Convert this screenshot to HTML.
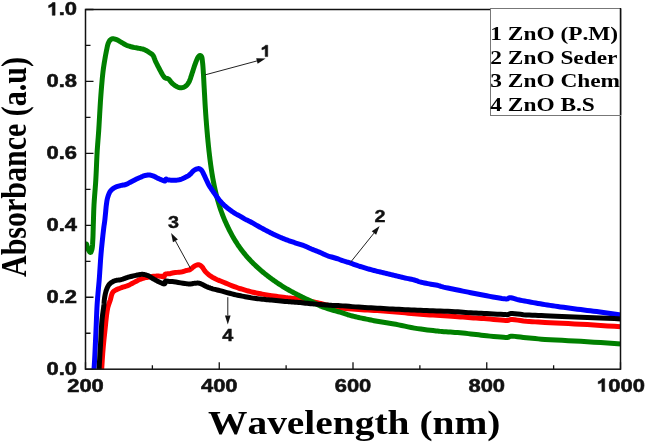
<!DOCTYPE html>
<html><head><meta charset="utf-8"><style>
html,body{margin:0;padding:0;background:#fff;}
svg{display:block;will-change:transform;}
text{font-kerning:none;}
.t{font-family:"Liberation Sans",sans-serif;font-weight:bold;font-size:18.6px;fill:#111;stroke:#111;stroke-width:0.55px;}
.an{font-family:"Liberation Sans",sans-serif;font-weight:bold;font-size:16.5px;fill:#111;stroke:#111;stroke-width:0.4px;}
.ttl{font-family:"Liberation Serif",serif;font-weight:bold;font-size:33px;fill:#000;}
.ttl2{font-family:"Liberation Serif",serif;font-weight:bold;font-size:30px;fill:#000;}
.lg{font-family:"Liberation Serif",serif;font-weight:bold;font-size:19px;fill:#000;}
</style></head><body>
<svg width="645" height="442" viewBox="0 0 645 442">
<defs><clipPath id="c"><rect x="85.5" y="9.5" width="535.0" height="359.7"/></clipPath></defs>
<path d="M85.5 369.20h8 M85.5 333.23h5 M85.5 297.26h8 M85.5 261.29h5 M85.5 225.32h8 M85.5 189.35h5 M85.5 153.38h8 M85.5 117.41h5 M85.5 81.44h8 M85.5 45.47h5 M85.5 9.50h8 M85.50 369.2v-7 M152.38 369.2v-4 M219.25 369.2v-7 M286.12 369.2v-4 M353.00 369.2v-7 M419.88 369.2v-4 M486.75 369.2v-7 M553.62 369.2v-4 M620.50 369.2v-7" stroke="#111" stroke-width="1.3" fill="none"/>
<g clip-path="url(#c)" fill="none" stroke-linejoin="round" stroke-linecap="round">
<polyline points="101.50,372.00 101.74,368.32 101.98,364.63 102.21,360.93 102.45,357.25 102.71,353.60 103.00,350.00 103.29,346.62 103.60,343.30 103.93,340.00 104.27,336.70 104.63,333.38 105.00,330.00 105.39,326.26 105.78,322.33 106.19,318.37 106.64,314.54 107.13,311.03 107.70,308.00 108.10,306.41 108.54,304.98 109.00,303.66 109.46,302.42 109.90,301.22 110.30,300.00 110.59,298.93 110.86,297.86 111.11,296.82 111.35,295.82 111.61,294.91 111.90,294.10 112.10,293.64 112.29,293.21 112.49,292.82 112.70,292.46 112.94,292.12 113.20,291.80 113.48,291.51 113.76,291.25 114.07,291.01 114.40,290.78 114.78,290.55 115.20,290.30 116.05,289.86 117.07,289.40 118.20,288.93 119.38,288.47 120.57,288.03 121.70,287.60 122.78,287.22 123.87,286.87 124.96,286.53 126.04,286.19 127.13,285.82 128.20,285.40 129.29,284.91 130.38,284.37 131.46,283.81 132.54,283.23 133.62,282.66 134.70,282.10 135.78,281.54 136.85,280.97 137.93,280.40 139.01,279.85 140.10,279.35 141.20,278.90 142.28,278.53 143.38,278.21 144.48,277.92 145.59,277.66 146.70,277.43 147.80,277.20 148.88,276.98 149.96,276.78 151.05,276.60 152.13,276.43 153.21,276.30 154.30,276.20 155.41,276.13 156.55,276.10 157.69,276.09 158.80,276.10 159.85,276.14 160.80,276.20 161.42,276.30 162.03,276.46 162.60,276.63 163.13,276.76 163.60,276.80 164.00,276.70 164.26,276.44 164.41,276.04 164.52,275.57 164.64,275.08 164.81,274.64 165.10,274.30 165.71,274.03 166.51,273.89 167.42,273.83 168.35,273.82 169.24,273.79 170.00,273.70 170.43,273.60 170.80,273.48 171.15,273.36 171.51,273.24 171.91,273.12 172.40,273.00 173.71,272.78 175.35,272.58 177.19,272.38 179.06,272.17 180.82,271.95 182.30,271.70 183.11,271.51 183.85,271.31 184.54,271.10 185.20,270.89 185.84,270.69 186.50,270.50 187.10,270.36 187.69,270.25 188.26,270.14 188.84,270.02 189.42,269.84 190.00,269.60 190.76,269.14 191.53,268.55 192.31,267.87 193.07,267.20 193.81,266.58 194.50,266.10 194.95,265.84 195.38,265.62 195.79,265.42 196.20,265.26 196.60,265.12 197.00,265.00 197.34,264.91 197.67,264.83 198.00,264.77 198.33,264.74 198.66,264.74 199.00,264.80 199.45,264.95 199.92,265.17 200.39,265.46 200.87,265.80 201.34,266.18 201.80,266.60 202.40,267.27 202.98,268.08 203.56,268.98 204.14,269.90 204.75,270.79 205.40,271.60 206.09,272.33 206.80,273.03 207.54,273.71 208.31,274.36 209.09,274.99 209.90,275.60 210.75,276.19 211.62,276.76 212.51,277.29 213.42,277.81 214.35,278.31 215.30,278.80 216.30,279.28 217.30,279.72 218.32,280.14 219.38,280.57 220.50,281.01 221.70,281.50 223.57,282.28 225.65,283.14 227.85,284.05 230.07,284.96 232.25,285.82 234.30,286.60 235.92,287.19 237.49,287.74 239.03,288.26 240.54,288.75 242.06,289.23 243.60,289.70 245.14,290.16 246.69,290.60 248.24,291.02 249.79,291.43 251.35,291.82 252.90,292.20 254.45,292.55 255.99,292.89 257.54,293.20 259.10,293.51 260.65,293.81 262.20,294.10 263.73,294.38 265.23,294.66 266.74,294.92 268.27,295.18 269.85,295.44 271.50,295.70 273.68,296.02 276.05,296.35 278.49,296.67 280.87,296.98 283.09,297.26 285.00,297.50 285.99,297.62 286.85,297.72 287.64,297.82 288.43,297.90 289.26,298.00 290.20,298.10 291.70,298.25 293.35,298.41 295.09,298.57 296.88,298.75 298.66,298.96 300.40,299.20 302.11,299.49 303.81,299.82 305.51,300.18 307.21,300.56 308.90,300.93 310.60,301.30 312.29,301.66 313.97,302.01 315.65,302.37 317.34,302.73 319.02,303.11 320.70,303.50 322.41,303.92 324.12,304.36 325.83,304.82 327.54,305.27 329.23,305.70 330.90,306.10 332.40,306.44 333.84,306.77 335.27,307.07 336.74,307.36 338.30,307.64 340.00,307.90 342.71,308.24 345.70,308.53 348.88,308.80 352.15,309.05 355.42,309.28 358.60,309.50 361.70,309.71 364.80,309.90 367.90,310.07 371.00,310.24 374.10,310.41 377.20,310.60 380.30,310.80 383.40,311.00 386.50,311.20 389.60,311.42 392.70,311.65 395.80,311.90 398.90,312.19 402.00,312.51 405.10,312.85 408.20,313.19 411.30,313.51 414.40,313.80 417.48,314.05 420.54,314.28 423.60,314.49 426.68,314.69 429.81,314.89 433.00,315.10 436.60,315.33 440.33,315.57 444.11,315.80 447.87,316.03 451.52,316.27 455.00,316.50 457.78,316.70 460.46,316.90 463.06,317.11 465.63,317.31 468.19,317.51 470.80,317.70 473.43,317.89 476.04,318.06 478.66,318.23 481.29,318.41 483.97,318.60 486.70,318.80 489.98,319.07 493.59,319.39 497.24,319.72 500.67,320.03 503.58,320.27 505.70,320.40 506.21,320.42 506.63,320.45 506.99,320.46 507.31,320.46 507.64,320.45 508.00,320.40 508.39,320.30 508.75,320.16 509.11,320.00 509.50,319.84 509.95,319.69 510.50,319.60 512.32,319.58 514.70,319.77 517.46,320.11 520.42,320.51 523.43,320.90 526.30,321.20 529.25,321.44 532.19,321.67 535.17,321.88 538.26,322.09 541.52,322.29 545.00,322.50 550.26,322.78 555.97,323.05 562.00,323.31 568.22,323.58 574.49,323.88 580.70,324.20 587.28,324.59 593.95,325.01 600.70,325.45 607.48,325.90 614.26,326.36 621.00,326.80" stroke="#ff0000" stroke-width="5.0"/>
<polyline points="86.50,244.00 86.82,245.03 87.13,246.11 87.44,247.18 87.76,248.22 88.11,249.17 88.50,250.00 88.81,250.56 89.15,251.14 89.51,251.68 89.86,252.13 90.20,252.42 90.50,252.50 90.80,252.31 91.08,251.88 91.34,251.27 91.58,250.54 91.80,249.77 92.00,249.00 92.24,247.78 92.42,246.41 92.54,244.92 92.63,243.33 92.71,241.68 92.80,240.00 92.92,237.75 93.01,235.36 93.08,232.87 93.15,230.30 93.22,227.67 93.30,225.00 93.40,221.86 93.49,218.63 93.59,215.32 93.70,211.94 93.83,208.49 94.00,205.00 94.24,201.01 94.54,196.94 94.86,192.79 95.20,188.57 95.52,184.31 95.80,180.00 96.06,175.23 96.29,170.30 96.51,165.31 96.72,160.36 96.95,155.56 97.20,151.00 97.44,147.41 97.69,143.96 97.95,140.62 98.21,137.33 98.46,134.04 98.70,130.70 98.92,127.28 99.12,123.83 99.32,120.38 99.52,116.96 99.71,113.62 99.90,110.40 100.06,107.75 100.21,105.23 100.36,102.76 100.52,100.29 100.70,97.72 100.90,95.00 101.19,91.31 101.51,87.32 101.86,83.20 102.22,79.11 102.61,75.22 103.00,71.70 103.30,69.35 103.61,67.13 103.92,65.02 104.25,63.00 104.57,61.03 104.90,59.10 105.18,57.49 105.46,55.93 105.74,54.41 106.02,52.93 106.31,51.49 106.60,50.10 106.83,48.94 107.06,47.80 107.28,46.70 107.52,45.63 107.79,44.63 108.10,43.70 108.37,43.02 108.65,42.36 108.95,41.75 109.28,41.17 109.62,40.66 110.00,40.20 110.33,39.87 110.68,39.58 111.05,39.32 111.43,39.10 111.81,38.92 112.20,38.80 112.57,38.74 112.94,38.73 113.32,38.77 113.71,38.83 114.10,38.91 114.50,39.00 114.99,39.12 115.49,39.26 116.00,39.44 116.53,39.63 117.06,39.85 117.60,40.10 118.28,40.45 118.97,40.87 119.68,41.31 120.40,41.78 121.14,42.25 121.90,42.70 122.78,43.20 123.70,43.71 124.64,44.23 125.59,44.73 126.55,45.19 127.50,45.60 128.40,45.94 129.31,46.23 130.21,46.50 131.13,46.74 132.06,46.97 133.00,47.20 134.03,47.43 135.10,47.64 136.17,47.83 137.25,48.01 138.30,48.20 139.30,48.40 140.14,48.56 140.96,48.71 141.76,48.86 142.55,49.03 143.33,49.23 144.10,49.50 144.91,49.85 145.71,50.27 146.50,50.73 147.28,51.22 148.05,51.71 148.80,52.20 149.51,52.64 150.23,53.07 150.93,53.50 151.61,53.97 152.24,54.49 152.80,55.10 153.33,55.89 153.76,56.77 154.13,57.73 154.49,58.73 154.86,59.76 155.30,60.80 155.92,62.10 156.59,63.48 157.29,64.89 158.01,66.31 158.72,67.69 159.40,69.00 159.98,70.10 160.56,71.21 161.13,72.28 161.70,73.30 162.25,74.25 162.80,75.10 163.16,75.65 163.50,76.16 163.84,76.63 164.19,77.07 164.57,77.46 165.00,77.80 165.50,78.06 166.07,78.21 166.66,78.33 167.26,78.45 167.85,78.62 168.40,78.90 169.00,79.41 169.56,80.04 170.09,80.76 170.63,81.51 171.19,82.24 171.80,82.90 172.49,83.53 173.21,84.16 173.96,84.76 174.73,85.33 175.51,85.85 176.30,86.30 177.03,86.67 177.77,87.02 178.52,87.33 179.28,87.58 180.04,87.74 180.80,87.80 181.58,87.75 182.38,87.61 183.18,87.38 183.96,87.08 184.71,86.72 185.40,86.30 186.06,85.80 186.67,85.23 187.24,84.60 187.78,83.89 188.30,83.13 188.80,82.30 189.44,81.05 190.01,79.63 190.55,78.10 191.06,76.50 191.57,74.88 192.10,73.30 192.67,71.61 193.24,69.85 193.80,68.07 194.37,66.32 194.93,64.65 195.50,63.10 195.94,61.93 196.38,60.77 196.82,59.66 197.27,58.64 197.73,57.74 198.20,57.00 198.49,56.63 198.79,56.28 199.10,55.98 199.40,55.73 199.70,55.57 200.00,55.50 200.26,55.52 200.53,55.62 200.80,55.77 201.05,55.97 201.29,56.22 201.50,56.50 201.79,57.12 202.00,57.91 202.15,58.83 202.27,59.84 202.38,60.91 202.50,62.00 202.69,63.65 202.86,65.46 203.01,67.39 203.14,69.38 203.27,71.37 203.40,73.30 203.52,75.19 203.62,77.08 203.72,78.98 203.81,80.87 203.90,82.74 204.00,84.60 204.10,86.36 204.20,88.11 204.30,89.84 204.39,91.56 204.49,93.28 204.59,95.00 204.68,96.68 204.77,98.35 204.86,100.01 204.95,101.67 205.04,103.34 205.14,105.00 205.24,106.67 205.35,108.33 205.46,110.00 205.57,111.67 205.68,113.33 205.80,115.00 205.92,116.67 206.04,118.33 206.17,120.00 206.30,121.67 206.43,123.33 206.56,125.00 206.70,126.67 206.83,128.33 206.97,130.00 207.12,131.67 207.26,133.33 207.41,135.00 207.56,136.67 207.71,138.33 207.87,140.00 208.03,141.67 208.19,143.33 208.36,145.00 208.53,146.67 208.71,148.33 208.88,150.00 209.07,151.67 209.26,153.33 209.45,155.00 209.65,156.67 209.85,158.33 210.06,160.00 210.28,161.67 210.50,163.33 210.73,165.00 210.96,166.67 211.20,168.34 211.45,170.00 211.70,171.67 211.97,173.34 212.24,175.00 212.52,176.67 212.82,178.34 213.12,180.00 213.43,181.67 213.75,183.34 214.09,185.00 214.44,186.67 214.79,188.34 215.16,190.01 215.54,191.67 215.94,193.34 216.35,195.00 216.78,196.67 217.22,198.34 217.67,200.01 218.14,201.68 218.63,203.34 219.14,205.00 219.67,206.69 220.23,208.38 220.81,210.08 221.39,211.76 221.99,213.40 222.59,215.00 223.14,216.40 223.69,217.76 224.25,219.10 224.82,220.42 225.40,221.74 226.00,223.08 226.63,224.48 227.29,225.89 227.95,227.31 228.63,228.71 229.31,230.10 230.00,231.45 230.65,232.70 231.31,233.94 231.97,235.15 232.64,236.35 233.32,237.53 234.00,238.70 234.65,239.79 235.31,240.87 235.98,241.93 236.65,242.97 237.32,244.00 238.00,245.02 238.66,245.98 239.32,246.93 239.98,247.86 240.65,248.78 241.32,249.69 242.00,250.59 242.66,251.44 243.32,252.29 243.98,253.12 244.65,253.94 245.32,254.75 246.00,255.55 246.65,256.31 247.30,257.06 247.96,257.80 248.62,258.53 249.30,259.27 250.00,260.02 250.79,260.85 251.61,261.70 252.45,262.56 253.30,263.41 254.15,264.25 255.00,265.07 255.83,265.86 256.65,266.63 257.49,267.40 258.32,268.15 259.16,268.90 260.00,269.64 260.83,270.36 261.66,271.07 262.49,271.77 263.32,272.47 264.16,273.16 265.00,273.84 265.83,274.50 266.66,275.16 267.49,275.81 268.33,276.45 269.16,277.09 270.00,277.72 270.83,278.34 271.66,278.94 272.49,279.55 273.33,280.14 274.16,280.73 275.00,281.32 275.83,281.89 276.66,282.46 277.49,283.03 278.33,283.58 279.16,284.13 280.00,284.68 280.83,285.21 281.66,285.74 282.49,286.26 283.33,286.78 284.16,287.29 285.00,287.80 285.83,288.30 286.66,288.79 287.49,289.27 288.33,289.75 289.16,290.23 290.00,290.70 290.83,291.16 291.66,291.62 292.50,292.07 293.33,292.52 294.16,292.96 295.00,293.40 295.83,293.83 296.66,294.26 297.50,294.68 298.33,295.10 299.17,295.51 300.00,295.93 300.83,296.34 301.65,296.75 302.48,297.16 303.31,297.56 304.15,297.97 305.00,298.38 305.90,298.80 306.78,299.21 307.68,299.63 308.60,300.05 309.57,300.51 310.60,301.00 312.11,301.76 313.74,302.62 315.45,303.53 317.20,304.45 318.96,305.32 320.70,306.10 322.39,306.78 324.09,307.40 325.81,307.99 327.52,308.54 329.23,309.08 330.90,309.60 332.44,310.07 333.96,310.50 335.47,310.92 336.98,311.33 338.49,311.75 340.00,312.20 341.55,312.69 343.09,313.20 344.64,313.72 346.19,314.24 347.74,314.74 349.30,315.20 350.84,315.63 352.39,316.03 353.94,316.42 355.49,316.79 357.05,317.15 358.60,317.50 360.15,317.84 361.70,318.16 363.25,318.47 364.80,318.78 366.35,319.09 367.90,319.40 369.45,319.72 371.00,320.05 372.55,320.37 374.10,320.70 375.65,321.01 377.20,321.30 378.75,321.57 380.30,321.83 381.85,322.07 383.40,322.31 384.95,322.55 386.50,322.80 388.01,323.04 389.48,323.26 390.95,323.49 392.47,323.73 394.07,323.99 395.80,324.30 398.53,324.83 401.53,325.47 404.70,326.16 407.96,326.86 411.22,327.52 414.40,328.10 417.57,328.61 420.84,329.08 424.12,329.52 427.30,329.92 430.29,330.28 433.00,330.60 434.65,330.79 436.14,330.96 437.54,331.10 438.92,331.24 440.35,331.37 441.90,331.50 443.92,331.66 446.03,331.80 448.22,331.94 450.45,332.07 452.72,332.23 455.00,332.40 457.55,332.61 460.16,332.85 462.81,333.09 465.48,333.35 468.15,333.62 470.80,333.90 473.43,334.20 476.04,334.52 478.66,334.85 481.29,335.18 483.97,335.50 486.70,335.80 489.98,336.12 493.59,336.46 497.24,336.78 500.66,337.06 503.58,337.28 505.70,337.40 506.21,337.43 506.63,337.46 506.99,337.48 507.32,337.48 507.64,337.46 508.00,337.40 508.39,337.27 508.75,337.08 509.10,336.86 509.49,336.63 509.95,336.44 510.50,336.30 512.32,336.21 514.69,336.37 517.45,336.68 520.42,337.08 523.43,337.48 526.30,337.80 529.26,338.07 532.19,338.34 535.17,338.61 538.26,338.88 541.52,339.14 545.00,339.40 550.26,339.73 555.97,340.04 562.00,340.33 568.22,340.63 574.49,340.95 580.70,341.30 587.28,341.71 593.95,342.15 600.70,342.61 607.48,343.07 614.26,343.54 621.00,344.00" stroke="#008000" stroke-width="5.0"/>
<polyline points="93.80,372.00 93.93,370.06 94.06,368.20 94.20,366.34 94.33,364.40 94.46,362.31 94.60,360.00 94.83,355.75 95.06,350.90 95.30,345.67 95.54,340.30 95.78,335.00 96.00,330.00 96.19,325.63 96.36,321.26 96.53,316.96 96.70,312.78 96.89,308.77 97.10,305.00 97.28,302.24 97.48,299.60 97.69,297.07 97.90,294.63 98.10,292.28 98.30,290.00 98.45,288.27 98.60,286.69 98.74,285.16 98.89,283.60 99.04,281.91 99.20,280.00 99.47,276.34 99.75,272.12 100.05,267.56 100.36,262.90 100.67,258.37 101.00,254.20 101.29,250.95 101.59,247.77 101.90,244.68 102.21,241.70 102.51,238.87 102.80,236.20 103.01,234.28 103.22,232.41 103.43,230.63 103.63,228.94 103.82,227.39 104.00,226.00 104.11,225.24 104.21,224.58 104.31,223.98 104.40,223.37 104.50,222.73 104.60,222.00 104.75,220.78 104.90,219.44 105.05,218.01 105.20,216.54 105.35,215.05 105.50,213.60 105.65,212.11 105.78,210.58 105.92,209.05 106.06,207.53 106.22,206.04 106.40,204.60 106.57,203.34 106.74,202.11 106.92,200.91 107.13,199.72 107.39,198.55 107.70,197.40 108.05,196.27 108.44,195.13 108.86,194.00 109.34,192.92 109.89,191.91 110.50,191.00 111.13,190.26 111.83,189.58 112.58,188.96 113.36,188.39 114.17,187.87 115.00,187.40 115.85,186.99 116.73,186.64 117.64,186.35 118.56,186.08 119.48,185.84 120.40,185.60 121.30,185.39 122.21,185.24 123.12,185.09 124.03,184.94 124.92,184.76 125.80,184.50 126.66,184.17 127.49,183.78 128.31,183.35 129.13,182.90 129.95,182.44 130.80,182.00 131.74,181.52 132.72,181.02 133.71,180.51 134.69,180.01 135.62,179.53 136.50,179.10 137.12,178.80 137.71,178.52 138.27,178.26 138.83,178.01 139.40,177.76 140.00,177.50 140.71,177.19 141.45,176.86 142.20,176.53 142.96,176.22 143.73,175.94 144.50,175.70 145.26,175.50 146.02,175.32 146.79,175.17 147.57,175.06 148.34,175.00 149.10,175.00 149.86,175.07 150.61,175.19 151.37,175.37 152.12,175.59 152.86,175.83 153.60,176.10 154.36,176.42 155.10,176.79 155.83,177.19 156.57,177.61 157.32,178.02 158.10,178.40 159.00,178.80 159.98,179.22 160.97,179.63 161.92,180.02 162.78,180.35 163.50,180.60 163.81,180.72 164.09,180.84 164.34,180.95 164.58,181.02 164.80,181.05 165.00,181.00 165.21,180.79 165.38,180.41 165.52,179.97 165.66,179.53 165.81,179.18 166.00,179.00 166.17,179.00 166.34,179.10 166.52,179.24 166.72,179.41 166.94,179.58 167.20,179.70 167.78,179.85 168.48,179.96 169.26,180.04 170.09,180.11 170.91,180.16 171.70,180.20 172.45,180.24 173.20,180.27 173.95,180.29 174.70,180.28 175.45,180.26 176.20,180.20 176.97,180.11 177.74,180.01 178.51,179.87 179.28,179.71 180.05,179.52 180.80,179.30 181.57,179.03 182.33,178.73 183.08,178.39 183.83,178.04 184.57,177.67 185.30,177.30 186.02,176.94 186.73,176.58 187.43,176.21 188.13,175.82 188.82,175.39 189.50,174.90 190.26,174.23 191.00,173.44 191.72,172.60 192.46,171.78 193.21,171.02 194.00,170.40 194.75,169.94 195.54,169.50 196.34,169.12 197.14,168.83 197.90,168.64 198.60,168.60 199.10,168.67 199.58,168.82 200.04,169.03 200.47,169.30 200.89,169.63 201.30,170.00 201.82,170.60 202.29,171.34 202.74,172.17 203.16,173.05 203.58,173.94 204.00,174.80 204.43,175.68 204.85,176.58 205.27,177.49 205.67,178.40 206.08,179.31 206.50,180.20 206.90,181.06 207.30,181.92 207.70,182.77 208.11,183.61 208.54,184.46 209.00,185.30 209.53,186.19 210.09,187.07 210.68,187.95 211.28,188.83 211.89,189.71 212.50,190.60 213.13,191.53 213.78,192.48 214.43,193.43 215.09,194.38 215.75,195.30 216.40,196.20 216.99,197.00 217.57,197.77 218.15,198.53 218.74,199.28 219.35,200.04 220.00,200.80 220.77,201.67 221.58,202.56 222.41,203.45 223.27,204.33 224.14,205.18 225.00,205.99 225.82,206.70 226.64,207.38 227.47,208.04 228.31,208.67 229.16,209.30 230.00,209.92 230.83,210.53 231.65,211.14 232.48,211.73 233.32,212.31 234.15,212.87 235.00,213.41 235.82,213.89 236.66,214.35 237.49,214.78 238.33,215.21 239.17,215.64 240.00,216.10 240.84,216.59 241.67,217.11 242.50,217.63 243.33,218.15 244.16,218.65 245.00,219.13 245.83,219.56 246.66,219.96 247.50,220.35 248.34,220.74 249.17,221.14 250.00,221.56 250.84,222.01 251.67,222.48 252.50,222.96 253.34,223.45 254.17,223.93 255.00,224.41 255.83,224.88 256.67,225.35 257.50,225.81 258.33,226.28 259.17,226.74 260.00,227.20 260.83,227.66 261.66,228.11 262.50,228.56 263.33,229.01 264.17,229.46 265.00,229.90 265.83,230.34 266.66,230.78 267.50,231.21 268.33,231.64 269.16,232.07 270.00,232.49 270.83,232.91 271.66,233.32 272.50,233.73 273.33,234.13 274.16,234.53 275.00,234.93 275.83,235.32 276.66,235.70 277.50,236.08 278.33,236.45 279.16,236.82 280.00,237.18 280.83,237.53 281.66,237.88 282.50,238.23 283.33,238.57 284.16,238.90 285.00,239.23 285.83,239.55 286.66,239.87 287.50,240.18 288.33,240.48 289.16,240.78 290.00,241.08 290.83,241.37 291.66,241.66 292.50,241.94 293.33,242.21 294.17,242.49 295.00,242.76 295.83,243.02 296.67,243.28 297.50,243.53 298.34,243.79 299.17,244.05 300.00,244.32 300.83,244.60 301.65,244.87 302.47,245.15 303.29,245.45 304.13,245.76 305.00,246.10 306.03,246.53 307.06,246.99 308.13,247.48 309.21,247.99 310.34,248.49 311.50,249.00 312.97,249.60 314.55,250.22 316.17,250.85 317.79,251.48 319.35,252.10 320.80,252.70 321.88,253.18 322.88,253.66 323.84,254.13 324.80,254.60 325.81,255.05 326.90,255.50 328.39,256.03 329.98,256.53 331.65,257.02 333.33,257.51 335.00,258.00 336.60,258.50 338.07,258.99 339.55,259.51 341.01,260.02 342.43,260.52 343.77,260.99 345.00,261.40 345.78,261.64 346.48,261.85 347.14,262.04 347.80,262.23 348.51,262.45 349.30,262.70 350.65,263.16 352.14,263.70 353.73,264.28 355.37,264.87 357.01,265.46 358.60,266.00 360.15,266.50 361.69,266.98 363.24,267.45 364.79,267.91 366.35,268.36 367.90,268.80 369.45,269.24 371.00,269.67 372.55,270.09 374.10,270.50 375.65,270.90 377.20,271.30 378.75,271.68 380.30,272.05 381.85,272.42 383.40,272.78 384.95,273.14 386.50,273.50 388.05,273.87 389.60,274.23 391.15,274.59 392.70,274.96 394.25,275.33 395.80,275.70 397.35,276.08 398.90,276.47 400.45,276.86 402.00,277.25 403.55,277.63 405.10,278.00 406.68,278.34 408.29,278.67 409.90,278.99 411.48,279.31 412.99,279.64 414.40,280.00 415.40,280.30 416.32,280.62 417.20,280.95 418.08,281.28 419.00,281.60 420.00,281.90 421.41,282.26 422.92,282.61 424.49,282.95 426.11,283.27 427.72,283.59 429.30,283.90 430.90,284.20 432.58,284.48 434.25,284.76 435.85,285.03 437.33,285.31 438.60,285.60 439.23,285.78 439.75,285.95 440.22,286.13 440.70,286.32 441.24,286.50 441.90,286.70 443.56,287.12 445.57,287.57 447.82,288.04 450.22,288.53 452.64,289.02 455.00,289.50 457.55,290.03 460.15,290.56 462.80,291.10 465.47,291.64 468.15,292.17 470.80,292.70 473.44,293.23 476.07,293.75 478.70,294.28 481.34,294.79 484.01,295.30 486.70,295.80 489.71,296.34 492.95,296.92 496.22,297.48 499.30,298.00 501.99,298.42 504.10,298.70 504.79,298.79 505.38,298.87 505.90,298.94 506.37,298.97 506.83,298.97 507.30,298.90 507.71,298.76 508.08,298.54 508.43,298.28 508.79,298.03 509.21,297.82 509.70,297.70 510.81,297.73 512.12,297.99 513.60,298.41 515.17,298.90 516.79,299.39 518.40,299.80 520.37,300.21 522.43,300.61 524.56,301.01 526.73,301.41 528.92,301.81 531.10,302.20 533.37,302.61 535.66,303.02 537.96,303.42 540.29,303.82 542.63,304.21 545.00,304.60 547.49,305.00 549.99,305.38 552.52,305.76 555.08,306.14 557.70,306.52 560.40,306.90 563.63,307.35 566.98,307.80 570.41,308.26 573.87,308.72 577.31,309.16 580.70,309.60 583.94,310.01 587.14,310.40 590.33,310.79 593.53,311.17 596.74,311.58 600.00,312.00 603.45,312.47 606.94,312.96 610.45,313.47 613.97,313.98 617.49,314.49 621.00,315.00" stroke="#0000ff" stroke-width="5.0"/>
<polyline points="98.90,372.00 99.17,367.49 99.43,362.96 99.70,358.44 99.97,353.92 100.24,349.44 100.50,345.00 100.74,340.70 100.96,336.36 101.19,332.04 101.42,327.82 101.69,323.78 102.00,320.00 102.30,317.18 102.64,314.42 103.01,311.76 103.36,309.26 103.66,306.99 103.90,305.00 103.99,304.02 104.05,303.15 104.10,302.36 104.15,301.60 104.21,300.83 104.30,300.00 104.43,299.02 104.57,298.00 104.74,296.97 104.91,295.94 105.10,294.94 105.30,294.00 105.48,293.23 105.66,292.49 105.85,291.76 106.05,291.06 106.27,290.37 106.50,289.70 106.72,289.10 106.95,288.50 107.19,287.93 107.45,287.36 107.72,286.82 108.00,286.30 108.26,285.85 108.52,285.41 108.79,285.00 109.09,284.59 109.42,284.19 109.80,283.80 110.37,283.29 111.01,282.78 111.71,282.29 112.46,281.82 113.26,281.38 114.10,281.00 115.23,280.62 116.47,280.34 117.78,280.12 119.12,279.91 120.44,279.69 121.70,279.40 122.81,279.07 123.89,278.70 124.95,278.31 126.01,277.92 127.09,277.55 128.20,277.20 129.45,276.86 130.76,276.53 132.10,276.22 133.41,275.93 134.65,275.65 135.80,275.40 136.58,275.22 137.31,275.04 138.00,274.87 138.68,274.72 139.34,274.60 140.00,274.50 140.58,274.43 141.14,274.38 141.70,274.34 142.25,274.33 142.82,274.35 143.40,274.40 144.10,274.50 144.81,274.64 145.53,274.82 146.27,275.03 147.03,275.29 147.80,275.60 148.83,276.09 149.89,276.70 150.98,277.37 152.09,278.07 153.20,278.76 154.30,279.40 155.40,280.00 156.52,280.61 157.64,281.21 158.74,281.77 159.80,282.28 160.80,282.70 161.52,283.00 162.24,283.32 162.94,283.61 163.58,283.82 164.15,283.90 164.60,283.80 164.86,283.52 165.03,283.06 165.14,282.52 165.23,281.97 165.34,281.50 165.50,281.20 165.60,281.12 165.70,281.07 165.80,281.03 165.92,281.02 166.05,281.01 166.20,281.00 166.67,281.02 167.27,281.12 167.96,281.25 168.68,281.39 169.38,281.52 170.00,281.60 170.41,281.62 170.77,281.61 171.12,281.59 171.48,281.58 171.90,281.58 172.40,281.60 173.97,281.78 176.02,282.09 178.33,282.47 180.70,282.87 182.93,283.23 184.80,283.50 185.80,283.63 186.71,283.76 187.56,283.87 188.38,283.95 189.18,284.00 190.00,284.00 190.77,283.94 191.52,283.83 192.27,283.68 193.01,283.53 193.75,283.39 194.50,283.30 195.26,283.23 196.04,283.17 196.82,283.12 197.59,283.10 198.32,283.12 199.00,283.20 199.50,283.30 199.97,283.44 200.41,283.60 200.85,283.78 201.31,283.98 201.80,284.20 202.48,284.52 203.20,284.89 203.93,285.30 204.70,285.71 205.49,286.12 206.30,286.50 207.27,286.91 208.29,287.32 209.34,287.71 210.41,288.09 211.50,288.45 212.60,288.80 213.75,289.13 214.90,289.42 216.06,289.69 217.26,289.96 218.54,290.26 219.90,290.60 222.06,291.18 224.46,291.84 226.99,292.56 229.55,293.27 232.02,293.93 234.30,294.50 235.96,294.88 237.54,295.22 239.07,295.53 240.57,295.82 242.07,296.11 243.60,296.40 245.15,296.70 246.70,297.00 248.25,297.30 249.80,297.58 251.35,297.85 252.90,298.10 254.45,298.32 256.00,298.52 257.55,298.70 259.10,298.87 260.65,299.04 262.20,299.20 263.73,299.36 265.24,299.51 266.74,299.65 268.27,299.80 269.85,299.94 271.50,300.10 273.68,300.31 276.05,300.55 278.49,300.79 280.87,301.02 283.09,301.23 285.00,301.40 285.99,301.48 286.85,301.55 287.64,301.61 288.43,301.67 289.26,301.73 290.20,301.80 291.70,301.91 293.35,302.03 295.09,302.16 296.87,302.30 298.66,302.45 300.40,302.60 302.10,302.77 303.80,302.96 305.50,303.15 307.20,303.34 308.90,303.53 310.60,303.70 312.28,303.85 313.97,303.99 315.65,304.12 317.33,304.24 319.01,304.37 320.70,304.50 322.40,304.64 324.12,304.78 325.83,304.92 327.54,305.06 329.23,305.19 330.90,305.30 332.41,305.38 333.85,305.44 335.28,305.49 336.75,305.54 338.30,305.61 340.00,305.70 342.72,305.88 345.71,306.11 348.89,306.36 352.16,306.62 355.42,306.87 358.60,307.10 361.70,307.30 364.80,307.49 367.90,307.67 371.00,307.85 374.10,308.03 377.20,308.20 380.30,308.37 383.40,308.54 386.50,308.71 389.60,308.88 392.70,309.04 395.80,309.20 398.90,309.36 402.00,309.51 405.10,309.67 408.20,309.82 411.30,309.96 414.40,310.10 417.48,310.23 420.54,310.34 423.60,310.45 426.68,310.57 429.81,310.68 433.00,310.80 436.60,310.94 440.33,311.07 444.11,311.21 447.87,311.36 451.52,311.52 455.00,311.70 457.78,311.87 460.46,312.05 463.06,312.25 465.63,312.44 468.19,312.63 470.80,312.80 473.43,312.95 476.04,313.09 478.66,313.21 481.29,313.34 483.97,313.46 486.70,313.60 489.98,313.78 493.59,313.98 497.24,314.18 500.67,314.37 503.58,314.52 505.70,314.60 506.21,314.62 506.63,314.65 506.99,314.67 507.31,314.67 507.64,314.65 508.00,314.60 508.39,314.48 508.75,314.31 509.10,314.11 509.49,313.91 509.95,313.73 510.50,313.60 512.32,313.52 514.70,313.66 517.45,313.95 520.42,314.31 523.43,314.65 526.30,314.90 529.25,315.07 532.19,315.21 535.18,315.32 538.26,315.44 541.52,315.56 545.00,315.70 550.26,315.92 555.97,316.16 562.00,316.42 568.22,316.68 574.49,316.94 580.70,317.20 587.28,317.48 593.95,317.76 600.70,318.04 607.48,318.33 614.26,318.62 621.00,318.90" stroke="#000000" stroke-width="5.0"/>
</g>
<rect x="85.5" y="9.5" width="535.0" height="359.7" fill="none" stroke="#111" stroke-width="1.5"/>
<text transform="translate(77,375.00) scale(1.18,1)" text-anchor="end" class="t">0.0</text>
<text transform="translate(77,303.06) scale(1.18,1)" text-anchor="end" class="t">0.2</text>
<text transform="translate(77,231.12) scale(1.18,1)" text-anchor="end" class="t">0.4</text>
<text transform="translate(77,159.18) scale(1.18,1)" text-anchor="end" class="t">0.6</text>
<text transform="translate(77,87.24) scale(1.18,1)" text-anchor="end" class="t">0.8</text>
<text transform="translate(77,15.30) scale(1.18,1)" text-anchor="end" class="t">.0</text>
<path d="M800 0L540 0L540 1020C460 950 340 885 200 845L200 1090C280 1118 370 1175 440 1240C500 1300 545 1365 565 1409L800 1409Z" transform="translate(46.49,15.30) scale(0.01072,-0.00908)" fill="#111" stroke="#111" stroke-width="55.1"/>
<text transform="translate(85.50,391.5) scale(1.18,1)" text-anchor="middle" class="t">200</text>
<text transform="translate(219.25,391.5) scale(1.18,1)" text-anchor="middle" class="t">400</text>
<text transform="translate(353.00,391.5) scale(1.18,1)" text-anchor="middle" class="t">600</text>
<text transform="translate(486.75,391.5) scale(1.18,1)" text-anchor="middle" class="t">800</text>
<path d="M800 0L540 0L540 1020C460 950 340 885 200 845L200 1090C280 1118 370 1175 440 1240C500 1300 545 1365 565 1409L800 1409Z" transform="translate(596.09,391.50) scale(0.01072,-0.00908)" fill="#111" stroke="#111" stroke-width="55.1"/>
<text transform="translate(608.29,391.5) scale(1.18,1)" class="t">000</text>
<text transform="translate(208,434) scale(1.195,1)" class="ttl">Wavelength (nm)</text>
<text transform="translate(26,277) rotate(-90) scale(1,1.2)" class="ttl2">Absorbance (a.u)</text>
<rect x="490.5" y="8.5" width="130" height="107" fill="#fff" stroke="#777" stroke-width="1"/>
<line x1="620.5" y1="8" x2="620.5" y2="115" stroke="#111" stroke-width="1.5"/>
<text transform="translate(490.3,39.6) scale(1.23,1)" class="lg">1 ZnO (P.M)</text>
<text transform="translate(490.3,63.5) scale(1.23,1)" class="lg">2 ZnO Seder</text>
<text transform="translate(490.3,87.4) scale(1.23,1)" class="lg">3 ZnO Chem</text>
<text transform="translate(490.3,111.3) scale(1.23,1)" class="lg">4 ZnO B.S</text>
<line x1="205" y1="74.9" x2="256.91" y2="60.94" stroke="#222" stroke-width="1"/><polygon points="265.6,58.6 257.64,63.64 256.18,58.23" fill="#111"/>
<line x1="350.3" y1="262.6" x2="373.97" y2="233.12" stroke="#222" stroke-width="1"/><polygon points="379.6,226.1 376.15,234.87 371.78,231.37" fill="#111"/>
<line x1="190.6" y1="268.6" x2="175.42" y2="240.89" stroke="#222" stroke-width="1"/><polygon points="171.1,233 177.88,239.55 172.97,242.24" fill="#111"/>
<line x1="227.8" y1="297.2" x2="227.80" y2="315.40" stroke="#222" stroke-width="1"/><polygon points="227.8,324.4 225.00,315.40 230.60,315.40" fill="#111"/>
<path d="M800 0L540 0L540 1020C460 950 340 885 200 845L200 1090C280 1118 370 1175 440 1240C500 1300 545 1365 565 1409L800 1409Z" transform="translate(259.99,56.60) scale(0.00967,-0.00806)" fill="#111" stroke="#111" stroke-width="62.1"/>
<text transform="translate(380,222.4) scale(1.2,1)" text-anchor="middle" class="an">2</text>
<text transform="translate(173.5,227.6) scale(1.2,1)" text-anchor="middle" class="an">3</text>
<text transform="translate(227.8,340.7) scale(1.2,1)" text-anchor="middle" class="an">4</text>
</svg>
</body></html>
